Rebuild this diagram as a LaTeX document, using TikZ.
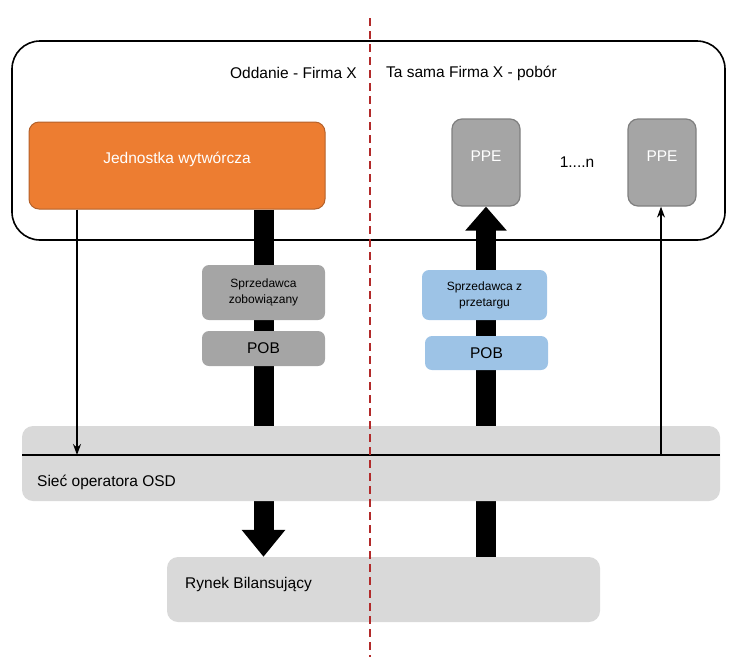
\documentclass[tikz,border=0pt]{standalone}
\usepackage{fontspec}
\setmainfont{Liberation Sans}
\usetikzlibrary{arrows.meta,backgrounds}

\definecolor{jworange}{HTML}{ED7D31}
\definecolor{jwedge}{HTML}{B4612A}
\definecolor{ppegray}{HTML}{A5A5A5}
\definecolor{ppeedge}{HTML}{7F7F7F}
\definecolor{sellblue}{HTML}{9DC3E6}
\definecolor{netgray}{HTML}{D9D9D9}
\definecolor{divred}{HTML}{B22A2A}

\tikzset{
  txt/.style={font=\fontsize{15.5}{18}\selectfont, inner sep=0pt},
  smalltxt/.style={font=\fontsize{12}{16}\selectfont, align=center},
  jwbox/.style={rectangle, rounded corners=10pt, fill=jworange, draw=jwedge,
    line width=1pt, text=white, minimum width=296pt, minimum height=87pt, txt,
    text depth=16pt},
  ppebox/.style={rectangle, rounded corners=10pt, fill=ppegray, draw=ppeedge,
    line width=1.2pt, text=white, minimum width=68pt, minimum height=87pt, txt,
    text depth=12pt},
  sellbox/.style={rectangle, rounded corners=7pt, minimum width=123pt, smalltxt},
  netbox/.style={rectangle, rounded corners=11pt, fill=netgray},
  bigbar/.style={line width=20pt, black},
  thinarrow/.style={line width=1.4pt, -{Stealth[length=11pt,width=8pt]}}
}

\begin{document}
\begin{tikzpicture}[x=1pt,y=-1pt]
\useasboundingbox (0,0) rectangle (746,657);

% ramka firmy
\node[draw, line width=1.6pt, rounded corners=28pt, minimum width=713pt,
  minimum height=199pt] (firma) at (368.5,140.5) {};
\node[txt, anchor=east] (oddanie) at (357,73) {Oddanie - Firma X};
\node[txt, anchor=west] (pobor) at (386,73) {Ta sama Firma X - pobór};

\node[jwbox] (jw) at (177,165.5) {Jednostka wytwórcza};
\node[ppebox] (ppe1) at (486,162.5) {PPE};
\node[txt] (dots) at (577,162) {1....n};
\node[ppebox] (ppe2) at (662,162.5) {PPE};

% sprzedawcy
\node[sellbox, fill=ppegray, minimum height=55pt] (szob) at (263.5,292.5)
  {Sprzedawca\\zobowiązany};
\node[sellbox, fill=ppegray, minimum height=35pt, txt] (pobL) at (263.5,348.5) {POB};
\node[sellbox, fill=sellblue, minimum width=125pt, minimum height=50pt] (szp)
  at (484.5,295) {Sprzedawca z\\przetargu};
\node[sellbox, fill=sellblue, minimum height=34pt, txt] (pobR) at (486.5,353) {POB};

% siec i rynek
\node[netbox, minimum width=698pt, minimum height=75pt] (osd) at (371,463.5) {};
\node[txt, anchor=west] (osdtxt) at (37,482) {Sieć operatora OSD};
\node[netbox, minimum width=433pt, minimum height=65pt] (rb) at (383.5,589.5) {};
\node[txt, anchor=west] (rbtxt) at (185,584) {Rynek Bilansujący};

\coordinate (netL) at (22,455);
\coordinate (netR) at (720,455);
\coordinate (tapL) at (77,455);
\coordinate (tapR) at (661,455);
\coordinate (divT) at (370,18);
\coordinate (divB) at (370,657);

\begin{scope}[on background layer]
  \draw[bigbar, -{Triangle[width=42pt,length=27pt]}]
    (jw.south -| szob.center) -- (rb.north -| szob.center);
  \draw[bigbar, -{Triangle[width=40pt,length=24pt]}]
    (rb.north -| ppe1.center) -- (ppe1.south);
\end{scope}

\draw[line width=1.5pt] (netL) -- (netR);
\draw[thinarrow] (jw.south -| tapL) -- (tapL);
\draw[thinarrow] (tapR) -- (tapR |- ppe2.south);

\draw[divred, line width=1.3pt, dash pattern=on 8pt off 5pt] (divT) -- (divB);

\end{tikzpicture}
\end{document}
